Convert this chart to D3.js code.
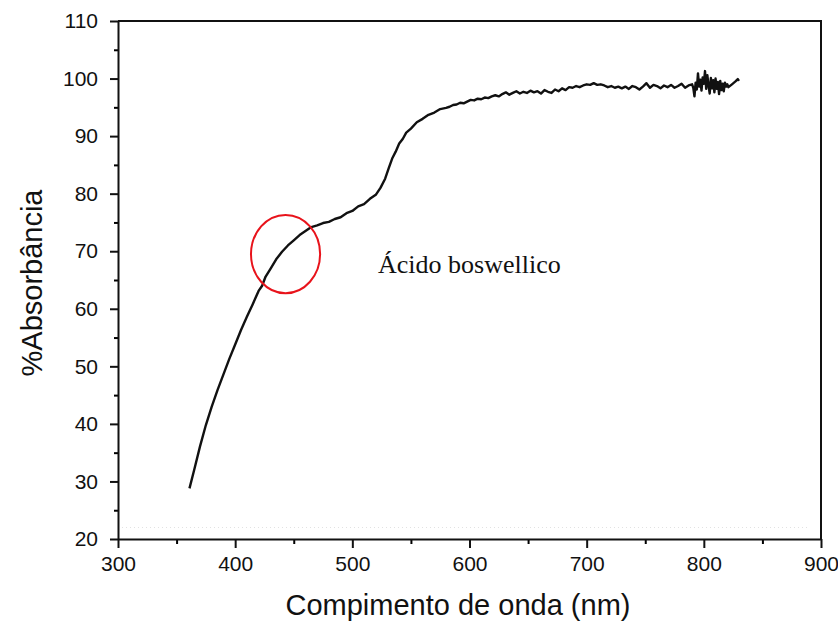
<!DOCTYPE html>
<html lang="pt">
<head>
<meta charset="UTF-8">
<title>%Absorbância</title>
<script src="https://cdn.jsdelivr.net/npm/d3@7"></script>
<style>
  body { margin: 0; background: #fff; }
  svg text { font-family: "Liberation Sans", Arial, sans-serif; fill: #111; }
</style>
</head>
<body>
<div id="chart"></div>
<script>
// spectrum (nm, %)
const wavelengths = [
  361, 365, 370, 375, 380, 385, 390, 395, 400, 405, 410, 415, 420, 423, 426, 430,
  435, 440, 445, 450, 455, 460, 465, 470, 475, 480, 485, 490, 495, 500, 505, 510,
  515, 520, 524, 528, 531, 534, 537, 540, 543, 546, 550, 555, 560, 565, 570, 575,
  580, 583, 586, 589, 592, 595, 598, 601, 604, 607, 610, 613, 616, 619, 622, 625,
  628, 631, 634, 637, 640, 643, 646, 649, 652, 655, 658, 661, 664, 667, 670, 673,
  676, 679, 682, 685, 688, 691, 694, 697, 700, 703, 706, 709, 712, 715, 718, 721,
  724, 727, 730, 733, 736, 739, 742, 745, 748, 751, 754, 757, 760, 763, 766, 769,
  772, 775, 778, 781, 784, 787, 790, 791, 792, 793, 794, 795, 796, 797, 798, 799,
  800, 801, 802, 803, 804, 805, 806, 807, 808, 809, 810, 811, 812, 813, 814, 815,
  816, 817, 818, 819, 820, 821, 824, 827, 829, 830
];
const absorbance = [
  28.8, 32.0, 36.1, 39.8, 43.0, 45.9, 48.6, 51.3, 53.8, 56.3, 58.6, 60.8, 63.1, 64.0, 65.6, 66.9,
  68.6, 69.9, 71.0, 71.9, 72.8, 73.5, 74.2, 74.5, 74.9, 75.1, 75.6, 75.9, 76.6, 77.0, 77.8, 78.2,
  79.1, 79.8, 81.0, 82.6, 84.4, 86.1, 87.3, 88.7, 89.5, 90.6, 91.3, 92.4, 93.0, 93.7, 94.1, 94.7,
  94.9, 95.1, 95.4, 95.5, 95.8, 95.7, 96.0, 96.3, 96.2, 96.5, 96.4, 96.7, 96.6, 96.9, 97.1, 96.9,
  97.3, 97.6, 97.2, 97.5, 97.8, 97.4, 97.7, 97.5, 97.9, 97.6, 97.8, 97.4, 98.0, 97.7, 97.5, 98.1,
  97.8, 98.3, 98.0, 98.5, 98.4, 98.7, 98.5, 98.8, 99.0, 98.9, 99.2, 98.9, 99.0, 98.8, 98.5, 98.7,
  98.4, 98.6, 98.3, 98.6, 98.2, 98.7, 98.5, 98.1, 98.6, 99.2, 98.4, 98.9, 98.7, 98.3, 98.8, 98.5,
  98.9, 98.4, 98.7, 99.1, 98.4, 98.8, 99.0, 98.4, 96.9, 99.3, 98.1, 100.9, 98.6, 99.8, 97.9, 100.2,
  99.1, 101.3, 98.2, 100.6, 98.8, 97.4, 100.1, 98.3, 99.7, 97.6, 100.0, 98.2, 99.4, 97.3, 99.6, 98.0,
  99.1, 97.8, 99.3, 98.6, 99.0, 98.5, 99.0, 99.5, 99.9, 99.6
];

const xTicks = [300, 400, 500, 600, 700, 800, 900];
const xMinorTicks = [350, 450, 550, 650, 750, 850];
const yTicks = [20, 30, 40, 50, 60, 70, 80, 90, 100, 110];
const yMinorTicks = [25, 35, 45, 55, 65, 75, 85, 95, 105];

const xTitle = "Compimento de onda (nm)";
const yTitle = "%Absorbância";
const noteText = "Ácido boswellico";
const ringCenter = [443, 69.5];   // nm, %
const ringRadius = [29.5, 6.8];   // nm, %

const width = 838, height = 626;

const svg = d3.select("#chart")
  .append("svg")
  .attr("width", width)
  .attr("height", height);

const x = d3.scaleLinear().domain([300, 900]).range([118, 821]);
const y = d3.scaleLinear().domain([20, 110]).range([539, 21]);

// faint dotted line just above the x axis
svg.append("line")
  .attr("x1", x(300)).attr("x2", x(890))
  .attr("y1", y(22)).attr("y2", y(22))
  .attr("stroke", "#e2e2e2")
  .attr("stroke-dasharray", "1,3");

// frame (top and right)
svg.append("path")
  .attr("d", `M${x(300)},${y(110)}H${x(900)}V${y(20)}`)
  .attr("fill", "none")
  .attr("stroke", "#111")
  .attr("stroke-width", 2);

// minor ticks
svg.append("g")
  .attr("transform", `translate(0,${y(20)})`)
  .call(d3.axisBottom(x).tickValues(xMinorTicks).tickSize(5).tickFormat(""))
  .call(g => g.select(".domain").remove())
  .call(g => g.selectAll("line").attr("stroke-width", 2));

svg.append("g")
  .attr("transform", `translate(${x(300)},0)`)
  .call(d3.axisLeft(y).tickValues(yMinorTicks).tickSize(4).tickFormat(""))
  .call(g => g.select(".domain").remove())
  .call(g => g.selectAll("line").attr("stroke-width", 2));

// main axes
const xAxis = svg.append("g")
  .attr("transform", `translate(0,${y(20)})`)
  .call(d3.axisBottom(x).tickValues(xTicks).tickSize(9).tickSizeOuter(0).tickPadding(8));

const yAxis = svg.append("g")
  .attr("transform", `translate(${x(300)},0)`)
  .call(d3.axisLeft(y).tickValues(yTicks).tickSize(8).tickSizeOuter(0).tickPadding(12));

[xAxis, yAxis].forEach(g => {
  g.select(".domain").attr("stroke", "#111").attr("stroke-width", 2);
  g.selectAll(".tick line").attr("stroke", "#111").attr("stroke-width", 2);
  g.selectAll(".tick text")
    .attr("font-family", "'Liberation Sans', Arial, sans-serif")
    .attr("font-size", 21)
    .attr("fill", "#111");
});

// spectrum
const points = wavelengths.map((w, i) => [w, absorbance[i]]);

svg.append("path")
  .datum(points)
  .attr("fill", "none")
  .attr("stroke", "#111")
  .attr("stroke-width", 2.4)
  .attr("stroke-linejoin", "round")
  .attr("d", d3.line().x(d => x(d[0])).y(d => y(d[1])));

// red ring
svg.append("ellipse")
  .attr("cx", x(ringCenter[0]))
  .attr("cy", y(ringCenter[1]))
  .attr("rx", x(ringCenter[0] + ringRadius[0]) - x(ringCenter[0]))
  .attr("ry", y(ringCenter[1] - ringRadius[1]) - y(ringCenter[1]))
  .attr("fill", "none")
  .attr("stroke", "#e8131b")
  .attr("stroke-width", 2);

// annotation
svg.append("text")
  .attr("x", 378)
  .attr("y", 273)
  .style("font-family", "'Liberation Serif', 'Times New Roman', serif")
  .style("font-size", "26px")
  .text(noteText);

// axis titles
svg.append("text")
  .attr("x", 458)
  .attr("y", 615)
  .attr("text-anchor", "middle")
  .style("font-size", "29px")
  .text(xTitle);

svg.append("text")
  .attr("transform", "translate(42,283) rotate(-90)")
  .attr("text-anchor", "middle")
  .style("font-size", "29px")
  .text(yTitle);
</script>
</body>
</html>
